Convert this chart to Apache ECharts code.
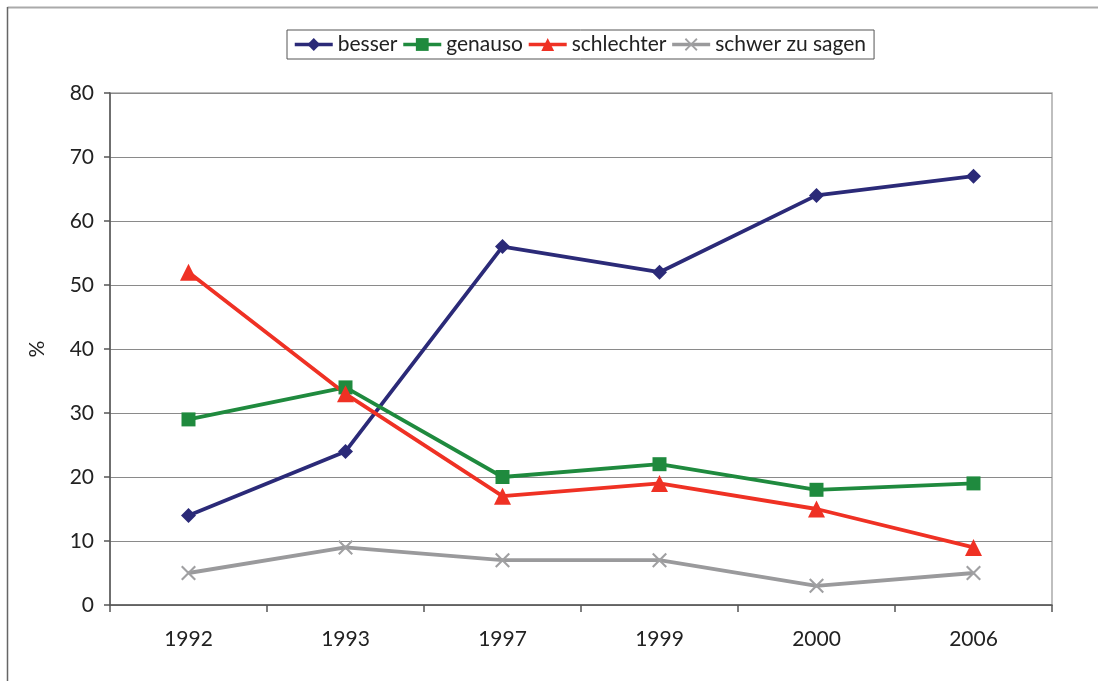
<!DOCTYPE html>
<html><head><meta charset="utf-8">
<script src="https://cdn.jsdelivr.net/npm/echarts@6/dist/echarts.min.js"></script>
<style>html,body{margin:0;padding:0;background:#fff}#c{width:1098px;height:681px}</style>
</head><body><div id="c"></div>
<script>
const categories = ['1992','1993','1997','1999','2000','2006'];
const besser = [14, 24, 56, 52, 64, 67];
const genauso = [29, 34, 20, 22, 18, 19];
const schlechter = [52, 33, 17, 19, 15, 9];
const schwer = [5, 9, 7, 7, 3, 5];
const seriesNames = ['besser','genauso','schlechter','schwer zu sagen'];

const FONT = 'Lato, "DejaVu Sans", sans-serif';
const crossPath = 'path://M0,1L1,0L5,4L9,0L10,1L6,5L10,9L9,10L5,6L1,10L0,9L4,5Z';

const chart = echarts.init(document.getElementById('c'), null, {renderer:'canvas'});
function mk(name, data, color, symbol, size, symColor) {
  return {
    name, type:'line', data, symbol, symbolSize:size,
    lineStyle:{color, width:3.8},
    itemStyle:{color: symColor || color},
    emphasis:{disabled:true}, z: 3
  };
}
chart.setOption({
  animation:false,
  textStyle:{fontFamily:FONT},
  graphic:[
    {type:'line', shape:{x1:7.5,y1:7.5,x2:1098,y2:7.5}, style:{stroke:'#aaa', lineWidth:2}},
    {type:'line', shape:{x1:7.5,y1:7,x2:7.5,y2:681}, style:{stroke:'#666', lineWidth:1.5}}
  ],
  legend:{
    data:seriesNames,
    top:30, left:287,
    padding:[4,8,4,6],
    borderColor:'#555', borderWidth:1,
    itemWidth:38, itemHeight:16, itemGap:4,
    lineStyle:{width:3.5},
    textStyle:{fontSize:21, color:'#222', fontFamily:FONT}
  },
  grid:{left:110, right:46, top:93, bottom:76, show:true, borderColor:'#aaa', borderWidth:1.5, backgroundColor:'transparent'},
  xAxis:{
    type:'category', data:categories, boundaryGap:true,
    axisLine:{lineStyle:{color:'#555', width:1.5}},
    axisTick:{show:true, length:7, lineStyle:{color:'#555', width:1.5}},
    axisLabel:{fontSize:21, color:'#222', margin:24, fontFamily:FONT},
    splitLine:{show:false}
  },
  yAxis:{
    type:'value', min:0, max:80, interval:10,
    name:'%', nameLocation:'middle', nameGap:62, nameRotate:90,
    nameTextStyle:{fontSize:21, color:'#222', fontFamily:FONT},
    axisLine:{show:true, lineStyle:{color:'#555', width:1.5}},
    axisTick:{show:true, length:6, lineStyle:{color:'#555', width:1.5}},
    axisLabel:{fontSize:21, color:'#222', margin:16, fontFamily:FONT},
    splitLine:{show:true, lineStyle:{color:'#8a8a8a', width:1.2}}
  },
  series:[
    mk('besser', besser, '#2b2a78', 'diamond', 15),
    mk('genauso', genauso, '#1f8a3e', 'rect', 14),
    mk('schlechter', schlechter, '#ef3124', 'triangle', 17),
    mk('schwer zu sagen', schwer, '#9a9a9c', crossPath, 15, '#a0a0a2')
  ]
});
</script></body></html>
